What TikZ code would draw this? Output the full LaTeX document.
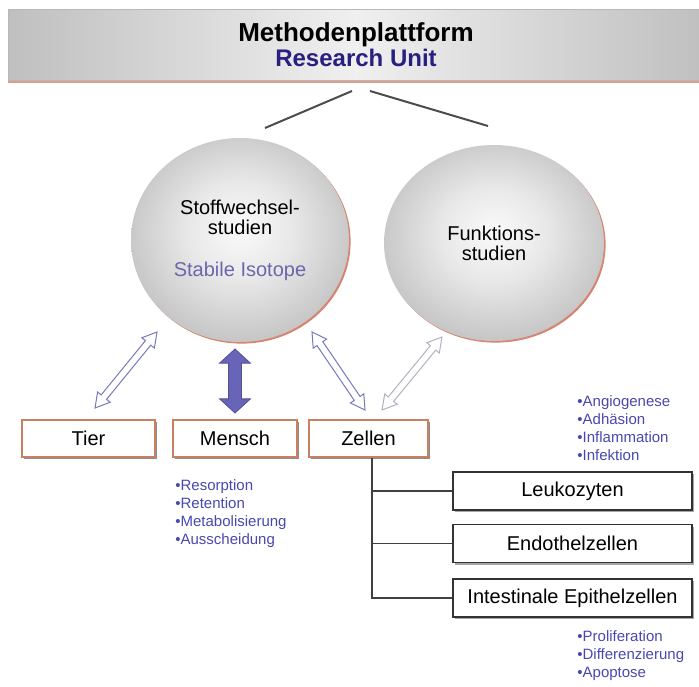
\documentclass[tikz,border=0pt]{standalone}
\usepackage{fontspec}
\setmainfont{Liberation Sans}
\usetikzlibrary{arrows.meta,positioning,calc,shapes.geometric,shapes.arrows,shadows}
\definecolor{unitblue}{RGB}{40,32,128}
\definecolor{isoblue}{RGB}{104,104,172}
\definecolor{listblue}{RGB}{72,72,176}
\definecolor{rim}{RGB}{214,132,112}
\definecolor{boxedge}{RGB}{200,128,96}
\definecolor{arrblue}{RGB}{120,120,190}
\definecolor{arrgray}{RGB}{175,178,195}
\definecolor{arrfill}{RGB}{104,100,184}
\pgfdeclareradialshading{sphere}{\pgfpoint{0bp}{3bp}}{%
  color(0bp)=(black!2); color(12bp)=(black!9); color(28bp)=(black!24);
  color(42bp)=(black!35); color(50bp)=(black!40)}
\newcommand{\dblconn}[3]{%
  \path let \p1=($(#3)-(#2)$) in
    node[#1, rotate={atan2(\y1,\x1)}, minimum height={veclen(\x1,\y1)}]
    at ($(#2)!0.5!(#3)$) {};}

\begin{document}
\begin{tikzpicture}[x=0.5pt, y=-0.5pt,
      banner/.style={rectangle, minimum width=348pt, minimum height=35.5pt,
                     left color=black!25, right color=black!25, middle color=black!6,
                     draw=black!28, line width=0.4pt, inner sep=0pt, align=center,
                     drop shadow={shadow xshift=0pt, shadow yshift=-1.3pt, fill=rim!80, opacity=1},
                     font=\fontsize{10}{12.5}\selectfont\bfseries},
      bubble/.style={ellipse, shade, shading=sphere,
                     drop shadow={shadow xshift=0.8pt, shadow yshift=-0.8pt, fill=rim, opacity=1},
                     align=center, font=\fontsize{10}{10}\selectfont},
      grpbox/.style={rectangle, draw=boxedge, line width=0.9pt, fill=white,
                     minimum height=18.5pt, inner sep=0pt, font=\fontsize{10}{12}\selectfont,
                     drop shadow={shadow xshift=1pt, shadow yshift=-1pt, fill=black!45, opacity=1}},
      cellbox/.style={rectangle, draw=black!80, line width=0.7pt, fill=white,
                      minimum width=119.5pt, minimum height=19pt, inner sep=0pt,
                      font=\fontsize{10}{12}\selectfont,
                      drop shadow={shadow xshift=1pt, shadow yshift=-1pt, fill=black!35, opacity=1}},
      hollowarr/.style={double arrow, draw=arrblue, fill=white, line width=0.5pt,
                        inner xsep=0pt, inner ysep=1.5pt, double arrow head extend=2.3pt,
                        double arrow tip angle=60},
      solidarr/.style={double arrow, draw=arrfill!80!black, fill=arrfill, line width=0.4pt,
                       inner xsep=0pt, inner ysep=3pt, double arrow head extend=4.5pt,
                       double arrow tip angle=95},
      fork/.style={draw=black!70, line width=1pt},
      tree/.style={draw=black!75, line width=0.6pt},
      items/.style={anchor=north west, inner sep=0pt, align=left, text=listblue,
                    font=\fontsize{7.5}{9}\selectfont},
    ]
    \useasboundingbox (0,0) rectangle (699,686);

    % header
    \node[banner] (plat) at (356,44.5)
      {{\fontsize{13}{13}\selectfont Methodenplattform}\\
       {\fontsize{12}{12}\selectfont\color{unitblue}Research Unit}};

    % study types
    \node[bubble, minimum width=109pt, minimum height=102pt] (stoff) at (240,240)
      {Stoffwechsel-\\studien\\[11pt]\textcolor{isoblue}{Stabile Isotope}};
    \node[bubble, minimum width=110pt, minimum height=98pt] (funk) at (494,243)
      {Funktions-\\studien};

    \coordinate (f1) at (352,91);
    \coordinate (f2) at (370,91);
    \coordinate (s1) at (265,128);
    \coordinate (s2) at (488,126);
    \draw[fork] (f1) -- (s1);
    \draw[fork] (f2) -- (s2);

    % models
    \node[grpbox, minimum width=66.5pt] (tier)   at (88.5,438.5)  {Tier};
    \node[grpbox, minimum width=62pt]   (mensch) at (235,438.5)   {Mensch};
    \node[grpbox, minimum width=59.5pt] (zellen) at (368.5,438.5) {Zellen};

    \coordinate (t1) at (95,408);
    \coordinate (t2) at (157,332);
    \coordinate (m1) at (235,413);
    \coordinate (m2) at (235,349);
    \coordinate (z1) at (365,410);
    \coordinate (z2) at (312,332);
    \coordinate (r1) at (382,410);
    \coordinate (r2) at (442,337);
    \dblconn{hollowarr}{t1}{t2}
    \dblconn{solidarr}{m1}{m2}
    \dblconn{hollowarr}{z1}{z2}
    \dblconn{hollowarr, draw=arrgray}{r1}{r2}

    % cell types
    \node[cellbox] (leuko) at (572.5,491)   {Leukozyten};
    \node[cellbox] (endo)  at (572.5,543.5) {Endothelzellen};
    \node[cellbox] (epi)   at (572.5,598)   {Intestinale Epithelzellen};

    \coordinate (stem) at ($(zellen.south)+(3.5,0)$);
    \draw[tree] (stem) |- (leuko.west);
    \draw[tree] (stem) |- (endo.west);
    \draw[tree] (stem) |- (epi.west);

    % lists
    \node[items] (fnlist) at (577,395)
      {•Angiogenese\\•Adhäsion\\•Inflammation\\•Infektion};
    \node[items] (melist) at (175,479)
      {•Resorption\\•Retention\\•Metabolisierung\\•Ausscheidung};
    \node[items] (eplist) at (577,630)
      {•Proliferation\\•Differenzierung\\•Apoptose};
  \end{tikzpicture}
\end{document}
